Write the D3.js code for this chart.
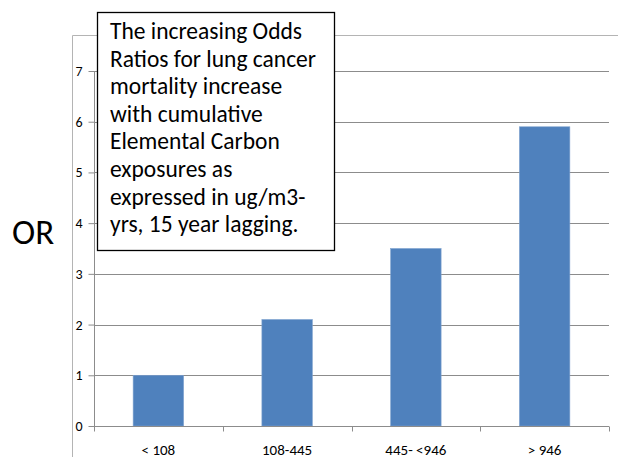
<!DOCTYPE html>
<html>
<head>
<meta charset="utf-8">
<script src="https://cdn.jsdelivr.net/npm/d3@7"></script>
<style>
  html, body { margin: 0; padding: 0; background: #fff; }
  svg { display: block; }
  text { font-family: Carlito, Calibri, Lato, "Open Sans", sans-serif; }
</style>
</head>
<body>
<svg id="chart" width="618" height="457"></svg>
<script>
// Cumulative elemental carbon exposure groups (ug/m3-yrs, 15 year lag)
const categories = ["< 108", "108-445", "445- <946", "> 946"];
// Odds ratios for lung cancer mortality
const oddsRatios = [1.0, 2.1, 3.5, 5.9];
const yTicks = [0, 1, 2, 3, 4, 5, 6, 7];
const yLabel = "OR";
const noteLines = [
  "The increasing Odds",
  "Ratios for lung cancer",
  "mortality increase",
  "with cumulative",
  "Elemental Carbon",
  "exposures as",
  "expressed in ug/m3-",
  "yrs, 15 year lagging."
];

const svg = d3.select("#chart");
const plot = { left: 94, right: 609, top: 71, bottom: 426 };

const x = d3.scaleBand()
  .domain(categories)
  .range([plot.left, plot.right])
  .paddingInner(0.608)
  .paddingOuter(0.304);

const y = d3.scaleLinear()
  .domain([0, 7])
  .range([plot.bottom, plot.top]);

// outer chart border (partially visible)
svg.append("path")
  .attr("d", `M72.5,460 V35.5 H620`)
  .attr("fill", "none")
  .attr("stroke", "#b4b4b4")
  .attr("stroke-width", 1);

// horizontal gridlines
svg.append("g")
  .selectAll("line")
  .data(yTicks.filter(d => d > 0))
  .join("line")
  .attr("x1", plot.left)
  .attr("x2", plot.right)
  .attr("y1", d => Math.round(y(d)) + 0.5)
  .attr("y2", d => Math.round(y(d)) + 0.5)
  .attr("stroke", "#8c8c8c")
  .attr("stroke-width", 1);

// bars
svg.append("g")
  .selectAll("rect")
  .data(oddsRatios)
  .join("rect")
  .attr("x", (d, i) => x(categories[i]))
  .attr("width", x.bandwidth())
  .attr("y", d => y(d))
  .attr("height", d => y(0) - y(d))
  .attr("fill", "#4f81bd")
  .attr("stroke", "#7fa2cf")
  .attr("stroke-width", 0.6);

// y axis
const yAxis = svg.append("g")
  .attr("transform", `translate(${plot.left + 0.5},0)`)
  .call(d3.axisLeft(y).tickValues(yTicks).tickSize(6).tickPadding(6).tickFormat(d3.format("d")));
yAxis.select(".domain").attr("stroke", "#8c8c8c").attr("d", `M0,${plot.top}V${plot.bottom}`);
yAxis.selectAll(".tick line").attr("stroke", "#8c8c8c");
yAxis.selectAll(".tick text")
  .attr("font-size", 14)
  .attr("fill", "#000")
  .attr("font-family", "Carlito, Calibri, Lato, sans-serif");

// x axis with ticks at category boundaries
const xAxisG = svg.append("g").attr("transform", `translate(0,${plot.bottom + 0.5})`);
xAxisG.append("line")
  .attr("x1", plot.left).attr("x2", plot.right)
  .attr("stroke", "#8c8c8c");
const step = x.step();
const bounds = d3.range(categories.length + 1).map(i => plot.left + i * step);
xAxisG.selectAll("line.bound")
  .data(bounds)
  .join("line")
  .attr("class", "bound")
  .attr("x1", d => Math.round(d) + 0.5)
  .attr("x2", d => Math.round(d) + 0.5)
  .attr("y1", 0).attr("y2", 5)
  .attr("stroke", "#8c8c8c");
xAxisG.selectAll("text")
  .data(categories)
  .join("text")
  .attr("x", d => x(d) + x.bandwidth() / 2)
  .attr("y", 28)
  .attr("text-anchor", "middle")
  .attr("font-size", 15)
  .attr("fill", "#000")
  .text(d => d);

// y axis title
svg.append("text")
  .attr("x", 12)
  .attr("y", 244)
  .attr("font-size", 35)
  .attr("fill", "#000")
  .text(yLabel);

// annotation box
const box = svg.append("g");
box.append("rect")
  .attr("x", 97.5).attr("y", 12.5)
  .attr("width", 237).attr("height", 238)
  .attr("fill", "#fff")
  .attr("stroke", "#000")
  .attr("stroke-width", 1.3);
const note = box.append("text")
  .attr("font-size", 23.5)
  .attr("fill", "#000");
note.selectAll("tspan")
  .data(noteLines)
  .join("tspan")
  .attr("x", 110)
  .attr("y", (d, i) => 39 + i * 27.6)
  .text(d => d);
// fit the widest line to the box's text column
const widest = d3.max(note.selectAll("tspan").nodes(), n => n.getComputedTextLength());
const sx = 206 / widest;
note.attr("transform", `translate(110,0) scale(${sx},1) translate(-110,0)`);
</script>
</body>
</html>
